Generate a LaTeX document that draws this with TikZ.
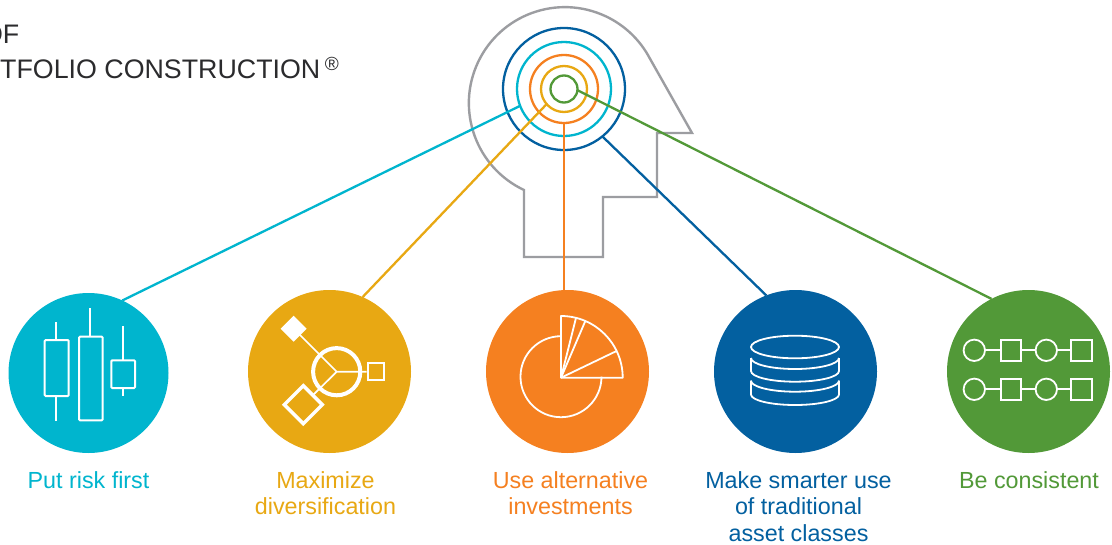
\documentclass[tikz,border=0pt]{standalone}
\usepackage{fontspec}
\setmainfont{Liberation Sans}
\definecolor{cteal}{HTML}{00B5CE}
\definecolor{cyel}{HTML}{E8A813}
\definecolor{corg}{HTML}{F58020}
\definecolor{cblu}{HTML}{0360A0}
\definecolor{cgrn}{HTML}{529938}
\definecolor{cgry}{HTML}{9C9DA1}
\definecolor{ctxt}{HTML}{2B2B2D}
\tikzset{
  ring/.style={circle,draw=#1,line width=2.3pt,minimum size=2*\ringr pt,inner sep=0pt,outer sep=0pt},
  disc/.style={circle,fill=#1,minimum size=163pt,inner sep=0pt,outer sep=0pt},
  link/.style={draw=#1,line width=2.3pt},
  lab/.style={text=#1,font=\fontsize{23.3}{26.4}\selectfont,align=center,anchor=north,inner sep=0pt},
  ico/.style={draw=white,line width=#1,line join=miter},
  head/.style={text=ctxt,font=\fontsize{26.8}{30}\selectfont,inner sep=0pt}
}
\newcommand{\ringnode}[4]{\def\ringr{#3}\node[ring=#2] (#1) at (#4) {};}
\begin{document}
\begin{tikzpicture}[x=1pt,y=-1pt]
\useasboundingbox (0,0) rectangle (1112,544);
\clip (0,0) rectangle (1112,544);
\fill[white] (0,0) rectangle (1112,544);
% header
\node[head,anchor=base east] (t1) at (19.5,43) {OF};
\node[head,anchor=base west] (t2) at (0,78) {TFOLIO CONSTRUCTION\,\raisebox{8pt}{\fontsize{19}{19}\selectfont ®}};
% head outline
\draw[cgry,line width=2.4pt,line join=miter]
  (524,190) arc[start angle=115.2,end angle=332.1,radius=96]
  -- (692,133) -- (657,133) -- (657,197) -- (603,197) -- (603,257) -- (524,257) -- cycle;
% rings
\ringnode{rb}{cblu}{61}{564,89}
\ringnode{rt}{cteal}{47}{564,89}
\ringnode{ro}{corg}{34}{564,89}
\ringnode{ry}{cyel}{23}{564,89}
\ringnode{rg}{cgrn}{13.5}{564,89}
% discs
\node[disc=cteal,minimum size=160pt] (dt) at (88.5,373) {};
\node[disc=cyel] (dy) at (329.5,371.5) {};
\node[disc=corg] (do) at (567.5,371.5) {};
\node[disc=cblu] (db) at (795.5,371.5) {};
\node[disc=cgrn] (dg) at (1028.5,371.5) {};
% connectors
\draw[link=cteal] (rt.201) -- (dt.65);
\draw[link=cyel] (ry.221.6) -- (dy.66.7);
\draw[link=corg] (ro.south) -- (ro.south |- do.north);
\draw[link=cblu] (rb.-51) -- (db.111.3);
\draw[link=cgrn] (rg.-5) -- (dg.117);
% candles
\begin{scope}[ico=2pt]
\draw (56.3,322) -- (56.3,340) (56.3,396) -- (56.3,420.7);
\draw[rounded corners=1pt] (44.7,340) rectangle (68.7,396);
\draw (90.3,308) -- (90.3,336.7);
\draw[rounded corners=1pt] (79,336.7) rectangle (102.7,420.3);
\draw (123.3,326) -- (123.3,360.3) (123.3,388) -- (123.3,396);
\draw[rounded corners=1pt] (111.3,360.3) rectangle (135,388);
\end{scope}
% diversification
\draw[ico=1.7pt] (336.7,371.7) -- (293.7,328.7) (336.7,371.7) -- (366.7,371.7) (336.7,371.7) -- (303.3,404.7);
\draw[ico=4pt] (336.7,371.7) circle[radius=23.6];
\fill[white] (293.7,315.7) -- (306.7,328.7) -- (293.7,341.7) -- (280.7,328.7) -- cycle;
\draw[ico=2pt] (367.7,363.3) rectangle (384.3,379.7);
\draw[ico=3.4pt,fill=cyel] (303.3,385.7) -- (322.3,404.7) -- (303.3,423.7) -- (284.3,404.7) -- cycle;
% pie
\begin{scope}[ico=1.8pt]
\draw (561,336.2) arc[start angle=-90,delta angle=-270,radius=40.5];
\draw[line join=round] (561,377.7) -- (622.7,377.7) arc[start angle=0,end angle=-90,radius=61.7] -- cycle;
\draw (561,377.7) -- (616.6,351);
\draw (561,377.7) -- (585.3,321);
\draw (561,377.7) -- (576,317.9);
\end{scope}
% database
\begin{scope}[ico=1.8pt]
\draw (795,347) ellipse[x radius=44,y radius=11.3];
\draw (751,358) arc[start angle=180,end angle=0,x radius=44,y radius=11];
\draw (751,358) -- (751,371) arc[start angle=180,end angle=0,x radius=44,y radius=10.7] -- (839,358);
\draw (751,380.7) arc[start angle=180,end angle=0,x radius=44,y radius=11];
\draw (751,380.7) -- (751,394.5) arc[start angle=180,end angle=0,x radius=44,y radius=10.5] -- (839,380.7);
\end{scope}
% process chains
\begin{scope}[ico=1.8pt]
\foreach \yy in {350.3,389.3} {
  \draw (985,\yy) -- (1000.7,\yy) (1021,\yy) -- (1035.6,\yy) (1057,\yy) -- (1071,\yy);
  \draw (974.3,\yy) circle[radius=10.7];
  \draw (1046.3,\yy) circle[radius=10.7];
  \draw (1000.7,\yy-10.3) rectangle (1021,\yy+10.3);
  \draw (1071,\yy-10.3) rectangle (1091.7,\yy+10.3);
}
\end{scope}
% labels
\node[lab=cteal] (l1) at (88.5,471.5) {Put risk first};
\node[lab=cyel] (l2) at (325.5,471.5) {Maximize\\diversification};
\node[lab=corg] (l3) at (570.5,471.5) {Use alternative\\investments};
\node[lab=cblu] (l4) at (798.5,471.5) {Make smarter use\\of traditional\\asset classes};
\node[lab=cgrn] (l5) at (1029,471.5) {Be consistent};
\end{tikzpicture}
\end{document}
